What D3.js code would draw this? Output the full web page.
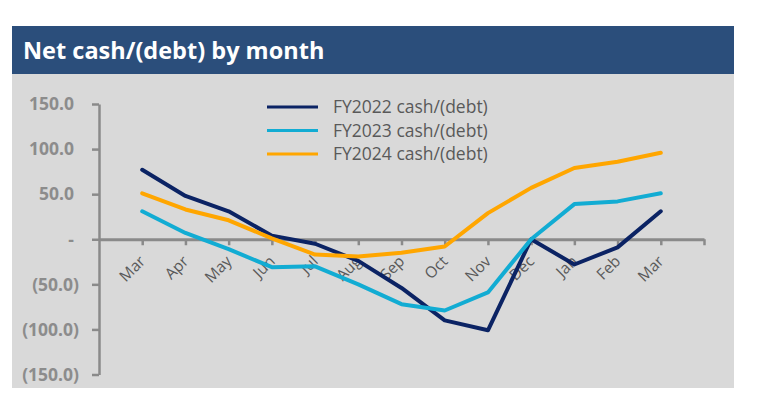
<!DOCTYPE html>
<html>
<head>
<meta charset="utf-8">
<script src="https://cdn.jsdelivr.net/npm/d3@7"></script>
<style>
  html, body { margin: 0; padding: 0; background: #fff; }
  svg { display: block; font-family: 'Open Sans', 'Liberation Sans', sans-serif; }
</style>
</head>
<body>
<div id="chart"></div>
<script>
const months = ['Mar', 'Apr', 'May', 'Jun', 'Jul', 'Aug', 'Sep', 'Oct', 'Nov', 'Dec', 'Jan', 'Feb', 'Mar']
const fy2022 = [77, 48, 31, 4, -5, -24, -54, -90, -101, 0, -28, -9, 31]
const fy2023 = [31, 7, -11, -31, -30, -50, -72, -79, -59, 0, 39, 42, 51]
const fy2024 = [51, 33, 21, 1, -17, -19, -15, -8, 29, 57, 79, 86, 96]
const seriesNames = ['FY2022 cash/(debt)', 'FY2023 cash/(debt)', 'FY2024 cash/(debt)']
const yTicks = [150, 100, 50, 0, -50, -100, -150]

const colors = ['#0b2364', '#12acd3', '#ffa600']
const series = [fy2022, fy2023, fy2024]

const width = 759, height = 396

const svg = d3.select('#chart').append('svg')
    .attr('width', width)
    .attr('height', height)

// panel + title bar
svg.append('rect').attr('x', 12).attr('y', 74).attr('width', 722).attr('height', 314).attr('fill', '#d9d9d9')
svg.append('rect').attr('x', 12).attr('y', 26).attr('width', 722).attr('height', 48).attr('fill', '#2b4e7b')
svg.append('text')
    .attr('x', 23).attr('y', 59)
    .attr('fill', '#fff')
    .attr('font-size', 23.5)
    .attr('font-weight', 'bold')
    .text('Net cash/(debt) by month')

// scales: slot 0 = y axis, months at 1..13, last tick at 14
const x = d3.scaleLinear().domain([0, 14]).range([99, 704])
const y = d3.scaleLinear().domain([-150, 150]).range([374.5, 104])

const axisColor = '#8a8a8a'

// y axis
const yAxis = svg.append('g')
    .attr('transform', 'translate(99,0)')
    .call(d3.axisLeft(y).tickValues(yTicks).tickSize(7).tickSizeOuter(0).tickFormat(''))
yAxis.select('.domain').attr('stroke', axisColor).attr('stroke-width', 2.5)
yAxis.selectAll('.tick line').attr('stroke', axisColor).attr('stroke-width', 2.5)

const fmt = v => v === 0 ? '-' : v < 0 ? '(' + Math.abs(v).toFixed(1) + ')' : v.toFixed(1)
svg.append('g').selectAll('text')
    .data(yTicks)
    .enter()
    .append('text')
    .attr('x', d => d < 0 ? 79 : 74)
    .attr('y', d => y(d))
    .attr('dy', '0.36em')
    .attr('text-anchor', 'end')
    .attr('fill', '#8c8c8c')
    .attr('font-size', 17.5)
    .attr('font-weight', 'bold')
    .text(fmt)

// x axis at zero
const xAxis = svg.append('g')
    .attr('transform', 'translate(0,' + y(0) + ')')
    .call(d3.axisBottom(x).tickValues(d3.range(1, 15)).tickSize(6).tickSizeOuter(0).tickFormat(''))
xAxis.select('.domain').attr('stroke', axisColor).attr('stroke-width', 3)
xAxis.selectAll('.tick line').attr('stroke', axisColor).attr('stroke-width', 2.5)

svg.append('g').selectAll('text')
    .data(months)
    .enter()
    .append('text')
    .attr('transform', (d, i) => 'translate(' + (x(i + 1) + 4) + ',' + (y(0) + 23) + ') rotate(-45)')
    .attr('text-anchor', 'end')
    .attr('fill', '#595959')
    .attr('font-size', 15.5)
    .text(d => d)

// lines
const line = d3.line()
    .x((d, i) => x(i + 1))
    .y(d => y(d))

svg.append('g').selectAll('path')
    .data(series)
    .enter()
    .append('path')
    .attr('d', line)
    .attr('fill', 'none')
    .attr('stroke', (d, i) => colors[i])
    .attr('stroke-width', 4)
    .attr('stroke-linejoin', 'round')
    .attr('stroke-linecap', 'round')

// legend
const legend = svg.append('g').selectAll('g')
    .data(seriesNames)
    .enter()
    .append('g')
    .attr('transform', (d, i) => 'translate(267,' + (107 + i * 23.5) + ')')
legend.append('line')
    .attr('x1', 0).attr('x2', 51)
    .attr('stroke', (d, i) => colors[i])
    .attr('stroke-width', 3)
legend.append('text')
    .attr('x', 66)
    .attr('dy', '0.35em')
    .attr('fill', '#595959')
    .attr('font-size', 17.5)
    .text(d => d)
</script>
</body>
</html>
